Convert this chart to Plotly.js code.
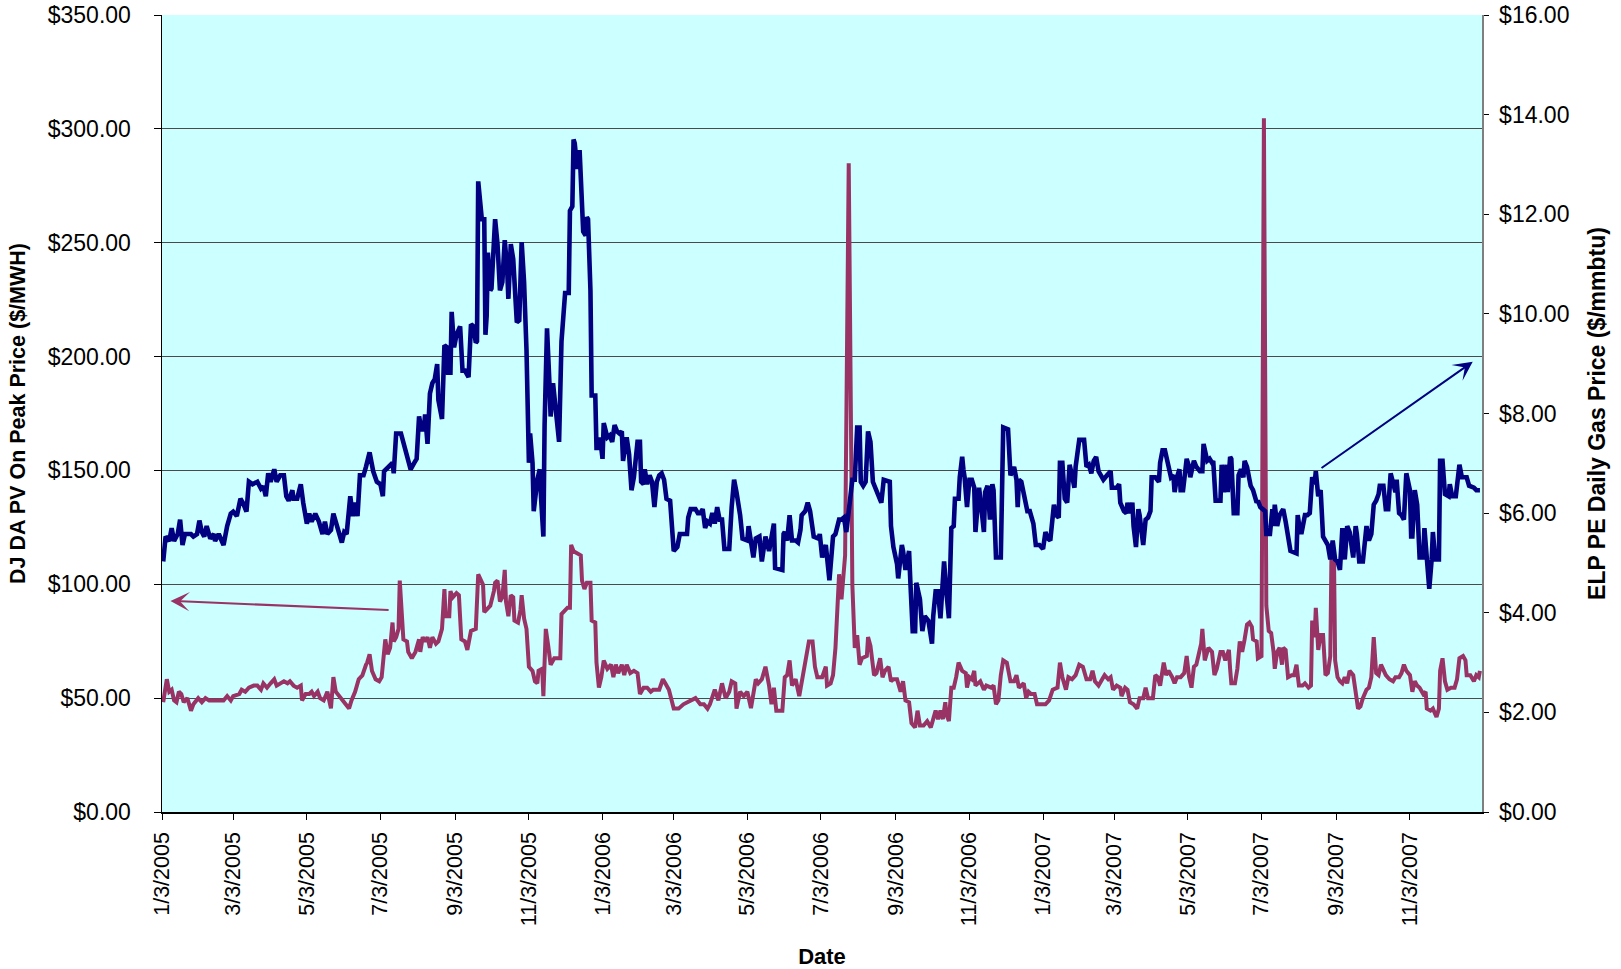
<!DOCTYPE html>
<html>
<head>
<meta charset="utf-8">
<script src="https://cdn.plot.ly/plotly-3.0.1.min.js"></script>
<style>
  html, body { margin: 0; padding: 0; background: #ffffff; }
  #chart { width: 1621px; height: 969px; }
</style>
</head>
<body>
<div id="chart"></div>
<script>
// Trading days are stored as day offsets from the first trading day, 2005-01-03.
const BASE_DATE = Date.UTC(2005, 0, 3);

// DJ DA Palo Verde on-peak power price ($/MWH): [day offset, price]
const powerSeries = [
  [1,48.2],[4,58.3],[6,52.8],[8,53.7],[10,49],[12,48.2],[14,52.8],[16,51.8],[18,48.2],[21,50],
  [24,44.5],[26,47.3],[30,50],[33,48.2],[36,50],[39,49],[43,49],[47,49],[51,49],[54,50.9],
  [57,49],[59,50.9],[64,51.8],[66,53.7],[69,52.8],[72,54.6],[76,55.5],[79,55.5],[82,53.7],[84,56.5],
  [87,54.6],[90,56.5],[93,58.3],[95,55.5],[98,56.5],[101,57.4],[104,56.5],[106,57.4],[109,55.5],[112,54.6],
  [115,55.5],[116,49],[119,51.8],[122,51.8],[124,52.8],[126,50.9],[129,52.8],[131,50],[134,49],[137,52.8],
  [140,45.5],[142,59.2],[144,52.8],[147,50.9],[149,49],[152,47.3],[155,45.5],[157,49],[160,52.8],[163,58.3],
  [166,60],[169,64.6],[170,65.6],[172,69.3],[174,61.9],[177,58.3],[180,57.4],[182,59.2],
  [185,75.8],[187,69.3],[189,72.1],[191,83.2],[192,74.9],[194,76.8],[196,80.4],[197,101.6],[198,89.7],[200,75.8],
  [203,74.9],[204,70.3],[207,67.5],[210,70.3],[213,75.8],[214,70.3],[216,76.8],[218,74.9],[220,76.8],[222,72.1],
  [224,76.8],[227,73.9],[229,74.9],[232,80.4],[234,97.9],[235,86],[238,86],[239,97],[241,94.3],[244,96.1],
  [246,95.2],[248,75.8],[251,74.9],[253,71.2],[256,79.5],[260,80.4],[262,104.4],[264,101.6],[266,99.8],[267,87.8],
  [269,88.7],[272,90.6],[275,97],[276,100.7],[278,101.6],[280,92.4],[282,94.3],[284,106.3],[285,92.4],[287,86],
  [289,95.2],[291,94.3],[292,84.1],[295,83.2],[297,88.7],[298,95.2],[300,85],[302,80.4],[304,63.8],[307,62],
  [309,57.4],[311,56.5],[312,62],[315,62.9],[316,50.9],[318,80.4],[320,73],[322,64.7],[325,67.5],[330,67.5],
  [331,86.9],[333,87.8],[336,89.7],[338,89.7],[339,117.3],[341,114.5],[344,113.6],[347,112.7],[348,101.6],[350,97.9],
  [352,100.7],[355,100.7],[356,84.1],[359,83.2],[360,65.6],[362,54.6],[364,59.2],[366,66.5],
  [369,62.9],[372,64.7],[374,59.2],[376,64.7],[378,61],[381,64.7],[383,60.1],[385,64.7],[388,61],[391,62],
  [394,61],[396,51.8],[399,54.6],[402,54.6],[405,52.8],[407,53.7],[412,53.7],[415,58.3],[417,56.5],[420,53.7],
  [424,45.4],[428,45.4],[432,47.3],[436,48.2],[442,50],[446,47.3],[449,47.3],[452,45.4],[454,47.3],[458,53.7],
  [461,49],[464,56.5],[467,50],[470,52.8],[472,57.4],[475,56.5],[476,45.4],[479,52.8],[482,50.9],[485,52.8],
  [488,45.6],[492,58.3],[494,56.5],[497,58.3],[500,63.8],[503,55.5],[505,47.3],[507,54.6],[509,44.5],[514,44.5],
  [516,59.2],[518,60.1],[520,66.6],[522,55.5],[525,58.3],[528,50.9],[531,60.1],[534,68.5],[536,74.9],[539,74.9],
  [541,63.8],[543,59.2],[547,59.2],
  [550,63.8],[551,55.5],[554,56.5],[556,60.1],[558,72.1],[561,104.4],[563,93.4],[564,99.8],[566,112.7],[569,284.9],
  [571,125],[572,99.8],[574,72.1],[576,77.7],[578,64.7],[580,67.5],[584,68.5],[585,76.8],[587,73],[590,60.1],
  [592,61],[595,67.5],[597,59.2],[599,62],[602,63.8],[604,57.4],[606,58.3],[609,58.3],[612,52.8],[614,57.4],
  [616,49],[619,48.2],[621,39],[624,37.1],[626,44.5],[628,38],[631,38],[634,39.9],[637,37.1],[641,44.5],
  [643,40.8],[645,44.5],[647,40.8],[649,48.2],[650,42.7],[652,39.9],[654,54.6],[656,54.6],[658,59.2],[660,65.6],
  [663,62],[666,61],[667,54.6],[669,59.2],[671,58.3],[673,62],[674,55.5],[678,57.4],[681,53.7],[683,55.5],
  [687,54.6],[689,55.5],[691,47.3],[693,49],[695,60.1],[697,66.6],[700,65.6],[703,57.4],[706,57.4],[708,60.1],
  [710,54.6],[712,55.5],[714,56.5],[716,50],[718,52.8],[720,51.8],[723,51.8],[725,47.3],[732,47.3],
  [735,49],[738,53.7],[742,54.6],[744,65.6],[746,59.2],[749,53.7],[751,59.2],[754,58.3],[757,60.1],[760,64.7],
  [763,63.8],[766,58.3],[769,58.3],[771,62],[773,57.4],[776,55.5],[779,58.3],[781,60.1],[784,58.3],[786,59.2],
  [788,53.7],[791,55.5],[794,54.6],[795,50.9],[798,54.6],[800,53.7],[802,48.2],[805,47.3],[808,45.4],[810,50],
  [813,50],[815,54.6],[817,50],[821,50],[823,60.1],[825,59.2],[827,55.5],[830,65.6],[832,60.1],[834,62],
  [837,59.2],[839,56.5],[841,59.2],[844,59.2],[847,61],[849,68.5],[851,59.2],[853,54.6],[855,63.8],[857,64.7],
  [859,69.3],[861,73.9],[862,80.4],[864,66.6],[867,72.1],[870,70.3],[872,60.1],[874,62.9],[877,70.3],[879,70.3],
  [881,66.6],[884,71.2],[885,62.9],[886,56.5],[889,56.5],[891,62.9],[893,74.9],[895,70.3],[897,75.8],[899,82.3],
  [901,83.2],[903,81.3],[904,75.8],[907,74.9],[908,67.5],[911,68.5],
  [913,304.6],[915,90.6],[917,79.5],[919,78.6],[921,70.3],[922,62.9],[924,70.3],[926,72.1],[928,64.7],[929,72.1],
  [931,71.2],[933,59.2],[936,60.1],[938,60.1],[940,64.7],[942,55.5],[945,55.5],[947,56.5],[950,54.6],[952,55.5],
  [953,84.1],[955,76.8],[956,89.7],[958,71.2],[960,77.7],[962,77.7],[964,60.1],[966,61],[968,68.5],[969,114.5],
  [971,114.5],[972,66.6],[974,59.2],[976,57.4],[978,56.5],[980,59.2],[982,56.5],[984,62],[987,60.1],[989,53.7],
  [991,45.4],[993,46.4],[995,50],[998,53.7],[1000,54.6],[1002,59.2],[1004,76.8],[1006,61],[1008,60.1],[1010,64.7],
  [1012,62],[1014,60.1],[1017,58.3],[1020,57.4],[1022,59.2],[1025,59.2],[1027,61],[1029,64.7],[1031,62],[1034,60.1],
  [1036,52.8],[1038,57.4],[1040,55.5],[1042,54.6],[1045,51.8],[1047,52.8],[1048,45.4],[1051,44.5],[1053,45.4],[1056,41.7],
  [1058,45.4],[1059,62],[1061,67.5],[1063,57.4],[1065,53.7],[1068,54.6],[1071,54.6],[1073,58.3],[1075,67.5],[1078,68.5],
  [1080,66.6],[1081,60.1],[1084,60.1],[1087,57.4],[1089,60.1],[1091,59.2],[1092,62]
];

// ELP PE daily gas price ($/mmbtu): [day offset, price]
const gasSeries = [
  [1,5.03],[3,5.53],[6,5.44],[8,5.70],[10,5.44],[13,5.58],[15,5.87],[17,5.36],[19,5.58],[24,5.58],
  [26,5.53],[29,5.58],[31,5.85],[33,5.62],[35,5.53],[37,5.74],[40,5.49],[43,5.58],[44,5.44],[47,5.58],
  [51,5.36],[54,5.74],[57,5.99],[59,6.03],[62,5.94],[65,6.29],[67,6.21],[70,6.03],[72,6.63],[75,6.58],
  [79,6.63],[82,6.49],[84,6.54],[86,6.34],[88,6.80],[90,6.63],[93,6.88],[95,6.63],[98,6.76],[101,6.76],
  [103,6.34],[105,6.25],[108,6.46],[109,6.29],[112,6.29],[115,6.58],[117,6.21],[120,5.79],[122,5.99],[124,5.83],
  [127,5.99],[130,5.83],[133,5.58],[135,5.83],[137,5.58],[140,5.66],[142,5.99],[145,5.74],[149,5.41],[151,5.62],
  [153,5.58],[156,6.34],[158,5.94],[160,6.21],[162,5.94],[164,6.76],[167,6.76],[169,6.93],[172,7.22],[175,6.84],
  [178,6.63],[181,6.58],[183,6.34],
  [184,6.84],[188,6.93],[191,7.01],[192,6.80],[193,7.22],[194,7.60],[198,7.60],[200,7.43],[203,7.13],[206,6.88],
  [209,7.01],[211,7.09],[213,7.94],[215,7.68],[217,7.68],[218,7.98],[220,7.39],[222,8.40],[224,8.61],[226,8.69],
  [228,8.99],[229,8.27],[232,7.89],[234,9.37],[236,9.33],[237,8.82],[239,8.82],[240,10.04],[242,9.33],[244,9.58],
  [247,9.75],[249,8.86],[251,8.86],[254,8.73],[256,9.79],[258,9.75],[260,9.42],[261,9.45],[262,12.66],[265,11.90],
  [267,11.90],[268,9.58],[269,9.96],[270,11.23],[272,10.47],[273,10.51],[276,11.90],[278,11.40],[280,10.47],[282,10.64],
  [284,11.48],[286,10.89],[287,10.30],[289,11.40],[291,11.10],[294,9.83],[296,9.87],[298,11.44],[300,10.64],[302,9.28],
  [304,7.01],[305,7.60],[307,7.01],[308,6.04],[311,6.67],[313,6.88],[314,6.34],[316,5.53],[317,7.77],[319,9.71],
  [321,8.61],[322,7.94],[324,8.61],[326,8.11],[327,7.85],[329,7.43],[331,9.45],[332,9.79],[334,10.42],[337,10.42],
  [338,12.07],[340,12.16],[341,13.50],[342,13.42],[344,12.91],[346,13.29],[347,12.87],[349,11.65],[351,11.57],[352,11.94],
  [353,11.90],[355,10.47],[356,8.36],[359,8.36],[360,7.31],[362,7.31],[363,7.52],
  [365,7.09],[366,7.81],[369,7.52],[371,7.56],[373,7.43],[375,7.77],[377,7.64],[379,7.60],[381,7.64],[382,7.05],
  [385,7.52],[387,7.18],[389,6.46],[391,6.72],[394,7.43],[396,7.43],[397,6.63],[399,6.58],[400,6.88],[402,6.58],
  [404,6.76],[406,6.63],[408,6.12],[410,6.63],[412,6.76],[414,6.80],[416,6.67],[418,6.29],[421,6.25],[424,5.24],
  [427,5.32],[429,5.58],[432,5.58],[435,5.58],[436,5.91],[438,6.08],[442,6.08],[444,6.00],[446,6.00],[448,6.08],
  [450,5.70],[452,5.83],[454,5.79],[456,6.00],[458,5.79],[460,6.12],[462,5.87],[464,5.87],[466,5.28],[470,5.28],
  [472,6.12],[474,6.67],[476,6.42],[479,5.96],[481,5.49],[485,5.45],[486,5.74],[488,5.41],[490,5.11],[492,5.49],
  [495,5.53],[497,5.03],[500,5.53],[503,5.24],[504,5.36],[507,5.79],[508,4.90],[514,4.86],[515,5.58],[516,5.62],
  [518,5.45],[520,5.96],[522,5.45],[525,5.45],[527,5.41],[529,5.66],[530,5.96],[533,6.04],[535,6.21],[537,6.04],
  [540,5.53],[544,5.49],[545,5.58],
  [547,5.11],[550,5.36],[553,4.65],[556,5.53],[558,5.58],[561,5.87],[563,5.87],[565,5.91],[567,5.62],[570,6.25],
  [572,6.67],[574,6.67],[576,7.72],[578,7.72],[579,6.63],[581,6.55],[583,6.63],[585,7.64],[587,7.43],[589,6.63],
  [591,6.51],[594,6.34],[596,6.21],[598,6.67],[603,6.63],[604,5.74],[606,5.32],[609,4.98],[610,4.69],[613,5.36],
  [614,5.24],[616,4.86],[619,5.24],[620,4.65],[622,3.63],[624,3.63],[625,4.60],[628,4.27],[630,3.63],[632,3.93],
  [635,3.84],[638,3.38],[639,3.93],[641,4.43],[643,4.43],[645,3.89],[647,4.52],[648,5.03],[650,4.39],[652,3.89],
  [654,5.70],[656,5.74],[657,6.29],[660,6.29],[661,6.72],[663,7.13],[664,6.88],[665,6.72],[667,6.12],[669,6.67],
  [671,6.67],[673,6.51],[674,5.62],[677,6.51],[679,6.08],[681,5.62],[682,6.42],[684,6.55],[686,5.87],[688,6.58],
  [689,6.46],[691,5.11],[695,5.11],[696,6.55],[697,7.72],[701,7.68],[703,6.76],[706,6.93],[708,6.67],[709,6.12],
  [710,6.67],[712,6.63],[714,6.34],[717,6.04],[719,6.04],[722,5.79],[724,5.36],[727,5.36],[730,5.28],
  [732,5.62],[734,5.49],[736,5.45],[739,6.17],[741,5.96],[743,5.91],[744,7.01],[746,7.01],[748,6.29],[750,6.21],
  [752,6.97],[754,6.76],[756,6.51],[757,6.93],[760,7.47],[764,7.47],[766,6.93],[768,6.97],[770,6.80],[772,7.05],
  [774,7.13],[776,6.84],[778,6.76],[780,6.67],[783,6.76],[786,6.84],[787,6.51],[791,6.51],[793,6.58],[794,6.21],
  [797,6.04],[799,6.00],[800,6.21],[802,6.00],[804,6.21],[805,5.74],[807,5.32],[809,6.08],[810,5.96],[813,5.36],
  [815,5.87],[817,5.91],[819,6.04],[820,6.72],[823,6.72],[826,6.63],[827,7.01],[829,7.26],[831,7.26],[834,6.88],
  [836,6.72],[838,6.76],[839,6.42],[841,6.72],[843,6.88],[844,6.46],[846,6.46],[849,7.09],[851,6.93],[852,6.72],
  [855,7.05],[857,6.93],[860,6.84],[862,6.84],[863,7.39],[866,7.05],[868,7.09],[870,7.01],[871,7.05],[873,6.25],
  [877,6.25],[878,6.97],[880,6.42],[882,6.97],[883,6.42],[885,7.13],[886,7.09],[888,6.00],[891,6.00],[892,6.76],
  [894,6.88],[896,6.72],[897,7.05],[899,6.93],[902,6.55],[904,6.46],[907,6.21],[908,6.25],[910,6.12],[912,6.08],
  [914,6.04],[915,5.58],[918,5.58],[920,6.08],[921,5.74],[922,6.17],[924,5.74],[926,5.96],[929,6.08],[931,5.83],
  [933,5.58],[935,5.24],[940,5.19],[941,5.96],[942,5.79],[944,5.58],[947,5.96],[949,5.96],[951,6.00],[953,6.72],
  [955,6.58],[956,6.84],[958,6.34],[960,6.46],[962,5.53],[964,5.45],[966,5.36],[968,5.07],[970,5.45],[972,5.07],
  [974,5.03],[976,4.86],[978,5.70],[980,5.07],[982,5.74],[984,5.62],[987,5.11],[989,5.74],[990,5.58],[992,5.03],
  [995,5.03],[998,5.74],[1000,5.45],[1002,5.58],[1004,6.17],[1006,6.25],[1008,6.38],[1009,6.55],[1012,6.55],[1014,6.08],
  [1016,6.08],[1018,6.80],[1020,6.55],[1022,6.42],[1023,6.67],[1025,6.00],[1027,5.96],[1029,5.87],[1031,6.80],[1034,6.46],
  [1035,5.53],[1036,5.53],[1038,6.46],[1040,6.17],[1042,5.11],[1045,5.11],[1046,5.70],[1048,5.11],[1050,4.48],[1052,5.07],
  [1053,5.62],[1055,5.07],[1058,5.07],[1059,7.05],[1061,7.05],[1063,6.38],[1066,6.34],[1067,6.58],[1069,6.34],[1072,6.34],
  [1075,6.97],[1077,6.72],[1079,6.72],[1081,6.72],[1083,6.55],[1087,6.51],[1089,6.46],[1092,6.46]
];

// Date-axis tick positions and their labels (every two months)
const tickDates = [
  '2005-01-03','2005-03-03','2005-05-03','2005-07-03','2005-09-03','2005-11-03',
  '2006-01-03','2006-03-03','2006-05-03','2006-07-03','2006-09-03','2006-11-03',
  '2007-01-03','2007-03-03','2007-05-03','2007-07-03','2007-09-03','2007-11-03'
];
const tickLabels = [
  '1/3/2005','3/3/2005','5/3/2005','7/3/2005','9/3/2005','11/3/2005',
  '1/3/2006','3/3/2006','5/3/2006','7/3/2006','9/3/2006','11/3/2006',
  '1/3/2007','3/3/2007','5/3/2007','7/3/2007','9/3/2007','11/3/2007'
];

// Pointer arrows tying each line to its axis: [day offset, $/MWH] for head and tail
const powerArrow = { head: [7, 92.7], tail: [189, 88.7] };
const gasArrow   = { head: [1086, 197.7], tail: [959.5, 150.6] };

function dayToDate(d) {
  const ms = BASE_DATE + d * 86400000;
  const iso = new Date(ms).toISOString();
  return iso.slice(0, 10) + ' ' + iso.slice(11, 19);
}

const FONT = 'Liberation Sans, Arial, Helvetica, sans-serif';
const POWER_COLOR = '#993366';
const GAS_COLOR = '#000080';

const powerTrace = {
  type: 'scatter', mode: 'lines',
  name: 'DJ DA PV On Peak Price',
  x: powerSeries.map(p => dayToDate(p[0])),
  y: powerSeries.map(p => p[1]),
  xaxis: 'x', yaxis: 'y',
  line: { color: POWER_COLOR, width: 4, shape: 'linear' },
  hoverinfo: 'skip'
};

const gasTrace = {
  type: 'scatter', mode: 'lines',
  name: 'ELP PE Daily Gas Price',
  x: gasSeries.map(p => dayToDate(p[0])),
  y: gasSeries.map(p => p[1]),
  xaxis: 'x', yaxis: 'y2',
  line: { color: GAS_COLOR, width: 4.6, shape: 'linear' },
  hoverinfo: 'skip'
};

function arrow(spec, color) {
  return {
    x: dayToDate(spec.head[0]), y: spec.head[1],
    ax: dayToDate(spec.tail[0]), ay: spec.tail[1],
    xref: 'x', yref: 'y', axref: 'x', ayref: 'y',
    text: '', showarrow: true,
    arrowhead: 3, arrowsize: 1.6, arrowwidth: 2,
    arrowcolor: color
  };
}

const layout = {
  width: 1621, height: 969,
  margin: { l: 162, r: 139, t: 15, b: 157, pad: 0 },
  paper_bgcolor: '#ffffff',
  plot_bgcolor: '#ccffff',
  showlegend: false,
  font: { family: FONT, color: '#000000' },
  xaxis: {
    type: 'date',
    range: [dayToDate(0), dayToDate(1093.7)],
    tickmode: 'array', tickvals: tickDates, ticktext: tickLabels,
    tickangle: -90,
    tickfont: { family: FONT, size: 21.5, color: '#000' },
    ticks: 'outside', ticklen: 6, tickcolor: '#000', tickwidth: 1,
    ticklabelstandoff: 4,
    showgrid: false, zeroline: false,
    showline: true, linecolor: '#000', linewidth: 1.5,
    title: { text: 'Date', font: { family: FONT, size: 22, weight: 'bold', color: '#000' }, standoff: 28 },
    fixedrange: true
  },
  yaxis: {
    range: [0, 350], dtick: 50, tick0: 0,
    tickprefix: '$', tickformat: '.2f',
    tickfont: { family: FONT, size: 23, color: '#000' },
    ticks: 'outside', ticklen: 7, tickcolor: '#000', tickwidth: 1,
    ticklabelstandoff: 18,
    showgrid: true, gridcolor: '#4a4a4a', gridwidth: 1,
    zeroline: false,
    showline: true, linecolor: '#000', linewidth: 1.5,
    title: { text: 'DJ DA PV On Peak Price ($/MWH)', font: { family: FONT, size: 21.5, weight: 'bold', color: '#000' }, standoff: 16 },
    fixedrange: true
  },
  yaxis2: {
    overlaying: 'y', side: 'right',
    range: [0, 16], dtick: 2, tick0: 0,
    tickprefix: '$', tickformat: '.2f',
    tickfont: { family: FONT, size: 23, color: '#000' },
    ticks: 'outside', ticklen: 5, tickcolor: '#000', tickwidth: 1,
    ticklabelstandoff: 6,
    showgrid: false, zeroline: false,
    showline: true, linecolor: '#7f7f7f', linewidth: 1.5,
    title: { text: 'ELP PE Daily Gas Price ($/mmbtu)', font: { family: FONT, size: 23, weight: 'bold', color: '#000' }, standoff: 20 },
    fixedrange: true
  },
  yaxis3: {
    overlaying: 'y', side: 'right', anchor: 'x',
    range: [0, 16], dtick: 2, tick0: 0,
    ticks: 'inside', ticklen: 7, tickcolor: '#000', tickwidth: 1,
    showticklabels: false, showgrid: false, zeroline: false, showline: false,
    fixedrange: true
  },
  annotations: [
    arrow(powerArrow, POWER_COLOR),
    arrow(gasArrow, GAS_COLOR)
  ]
};

Plotly.newPlot('chart', [powerTrace, gasTrace], layout, { displayModeBar: false, staticPlot: true });
</script>
</body>
</html>
